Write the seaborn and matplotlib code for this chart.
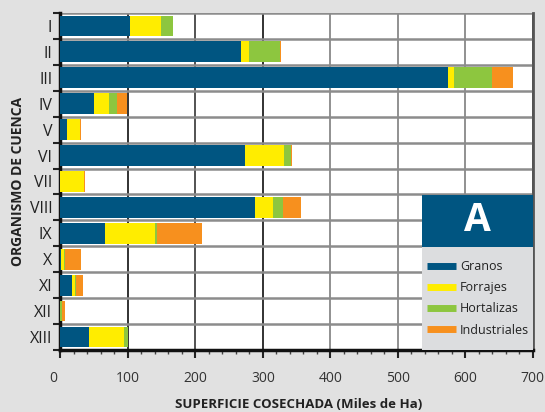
import matplotlib

matplotlib.use("Agg")

import matplotlib.pyplot as plt
import matplotlib.transforms as mtransforms
import numpy as np
import pandas as pd
import seaborn as sns
from matplotlib.lines import Line2D
from matplotlib.patches import Rectangle
from matplotlib.ticker import MultipleLocator

# superficie cosechada por organismo de cuenca (miles de ha)
ORGANISMOS = ["I", "II", "III", "IV", "V", "VI", "VII", "VIII", "IX", "X", "XI", "XII", "XIII"]
GRANOS = [103, 268, 574, 50, 10, 273, 0, 288, 66, 1, 17, 0, 42]
FORRAJES = [46, 12, 10, 22, 19, 58, 35, 27, 74, 3.5, 4.5, 0, 52]
HORTALIZAS = [18, 46, 56, 12, 0, 11, 0, 15, 3.5, 1.5, 1.5, 1.5, 6]
INDUSTRIALES = [0, 1.5, 31, 15, 1.5, 1.5, 1.5, 27, 66, 25, 10.5, 5.5, 0]

SERIES = ["Granos", "Forrajes", "Hortalizas", "Industriales"]
COLORS = {"Granos": "#005581", "Forrajes": "#ffed00",
          "Hortalizas": "#8dc63f", "Industriales": "#f7901e"}
BG = "#e1e1e1"

df = pd.DataFrame({"organismo": ORGANISMOS, "Granos": GRANOS, "Forrajes": FORRAJES,
                   "Hortalizas": HORTALIZAS, "Industriales": INDUSTRIALES})
cum = df[SERIES].cumsum(axis=1)
cum["organismo"] = df["organismo"]

sns.set_theme(style="white")
plt.rcParams["font.family"] = ["Open Sans", "DejaVu Sans"]

fig = plt.figure(figsize=(5.45, 4.12), dpi=100, facecolor=BG)
ax = fig.add_axes([0.111, 0.1505, 0.8664, 0.818])
ax.set_facecolor("white")

# stacked bars: draw cumulative totals from the outermost segment inwards
for name in reversed(SERIES):
    sns.barplot(data=cum, y="organismo", x=name, order=ORGANISMOS, orient="h",
                color=COLORS[name], saturation=1, width=0.8, linewidth=0, ax=ax, zorder=3)

ax.set_xlim(0, 700)
ax.set_ylim(12.5, -0.5)
ax.xaxis.set_major_locator(MultipleLocator(100))
ax.xaxis.set_minor_locator(MultipleLocator(20))

# row boundaries as major ticks + grid, labels on minor ticks at row centres
ax.set_yticks(np.arange(-0.5, 13, 1))
ax.set_yticklabels([])
ax.set_yticks(np.arange(13), minor=True)
ax.set_yticklabels(ORGANISMOS, minor=True, fontsize=11.5)
shift = mtransforms.ScaledTranslation(0, -7 / 100, fig.dpi_scale_trans)
for lbl in ax.get_yticklabels(minor=True):
    lbl.set_transform(lbl.get_transform() + shift)

ax.tick_params(axis="y", which="major", length=5, width=1.5, color="#222222", left=True)
ax.tick_params(axis="y", which="minor", length=0, pad=6, colors="#222222")
ax.tick_params(axis="x", which="major", length=6, width=1.5, color="#222222",
               bottom=True, pad=9, labelsize=10, labelcolor="#333333")
ax.tick_params(axis="x", which="minor", length=3, width=1, color="#444444", bottom=True)
for lbl in ax.get_xticklabels():
    if lbl.get_text() == "0":
        lbl.set_transform(lbl.get_transform()
                          + mtransforms.ScaledTranslation(-7 / 100, 0, fig.dpi_scale_trans))

ax.grid(axis="y", which="major", color="#8c8c8c", linewidth=1.8, zorder=1)
ax.grid(axis="x", which="major", color="#333333", linewidth=1.3, zorder=1)
ax.set_axisbelow(True)
grid_cols = ["#222222", "#222222", "#222222", "#444444", "#222222", "#888888", "#888888", "#888888"]
for gl, c in zip(ax.get_xgridlines(), grid_cols):
    gl.set_color(c)

ax.spines["top"].set_visible(False)
ax.spines["left"].set_color("#111111")
ax.spines["left"].set_linewidth(2.5)
ax.spines["bottom"].set_color("#111111")
ax.spines["bottom"].set_linewidth(2.5)
ax.spines["right"].set_color("#555555")
ax.spines["right"].set_linewidth(2)

ax.set_xlabel("SUPERFICIE COSECHADA (Miles de Ha)", fontsize=9.5, fontweight="bold",
              color="#222222", va="center")
ax.xaxis.set_label_coords(0.505, -0.163)
ax.set_ylabel("ORGANISMO DE CUENCA", fontsize=10, fontweight="bold",
              color="#222222", va="center")
ax.yaxis.set_label_coords(-0.09, 0.5)

# legend panel with the blue "A" header
ax.add_patch(Rectangle((0.7656, 0.0), 0.2344, 0.3065, transform=ax.transAxes,
                       facecolor="#dcdddf", edgecolor="none", zorder=4))
ax.add_patch(Rectangle((0.7656, 0.3065), 0.2344, 0.1535, transform=ax.transAxes,
                       facecolor="#005581", edgecolor="none", zorder=4))
ax.text(0.883, 0.383, "A", transform=ax.transAxes, ha="center", va="center",
        fontsize=28, fontweight="bold", color="white", zorder=5)

handles = [Line2D([], [], color=COLORS[s], linewidth=5, solid_capstyle="butt") for s in SERIES]
leg = ax.legend(handles, SERIES, loc="center", bbox_to_anchor=(0.884, 0.153),
                frameon=False, fontsize=9, handlelength=2.3, handletextpad=0.35,
                labelspacing=0.65, borderpad=0, borderaxespad=0)
leg.set_zorder(6)
for t in leg.get_texts():
    t.set_color("#222222")

fig.savefig("out.png", dpi=100, facecolor=BG)
